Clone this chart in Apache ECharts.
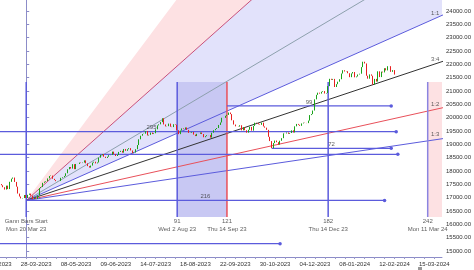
<!DOCTYPE html>
<html>
<head>
<meta charset="utf-8">
<script src="https://cdn.jsdelivr.net/npm/echarts@6/dist/echarts.min.js"></script>
<style>
html,body{margin:0;padding:0;background:#fff;}
#c{width:474px;height:270px;}
</style>
</head>
<body>
<div id="c"></div>
<script>
// ---- data (bar index 0 = Mon 20 Mar 23, Gann Bars Start) ----
const firstBar = -15;
const closes = [
17466,17392,17304,17451,17322,17594,17711,17754,17590,17413,17154,17043,16972,16985,17100,
16988,17107,17152,17077,16945,16986,16951,17081,17360,17398,17557,17599,17624,17722,17812,
17828,17707,17660,17618,17624,17624,17744,17769,17814,17915,18065,18148,18090,18256,18069,
18264,18266,18315,18297,18315,18399,18287,18182,18129,18203,18314,18348,18285,18321,18499,
18599,18634,18534,18488,18534,18594,18599,18726,18635,18563,18602,18716,18756,18688,18826,
18756,18817,18857,18771,18666,18691,18817,18972,19189,19322,19389,19399,19497,19332,19356,
19440,19385,19414,19565,19711,19750,19833,19979,19745,19672,19681,19778,19660,19646,19754,
19734,19527,19382,19517,19597,19571,19633,19543,19428,19435,19465,19365,19310,19394,19396,
19444,19386,19266,19307,19343,19347,19254,19435,19528,19575,19611,19727,19820,19996,19993,
20070,20103,20192,20133,19901,19742,19675,19675,19665,19716,19524,19638,19529,19437,19546,
19654,19513,19690,19811,19794,19751,19732,19812,19672,19625,19543,19282,19122,18857,19047,
19141,19080,18989,19134,19231,19412,19407,19444,19395,19425,19525,19444,19676,19765,19732,
19694,19784,19812,19802,19795,19890,20097,20133,20268,20687,20855,20937,20901,20970,20997,
20906,20926,21183,21457,21419,21453,21150,21255,21349,21441,21655,21779,21731,21742,21666,
21518,21659,21711,21513,21545,21619,21648,21895,22097,22032,21572,21462,21622,21572,21239,
21454,21353,21738,21522,21726,21697,21854,21772,21929,21931,21718,21783,21616
];
const firstOpen = 17510;

// x-axis tick labels
const xLabelIdx = [-18, 6, 30, 54, 78, 102, 126, 150, 174, 198, 222, 246];
const xLabelText = ['21-02-2023','28-03-2023','08-05-2023','09-06-2023','14-07-2023','18-08-2023',
  '22-09-2023','30-10-2023','04-12-2023','08-01-2024','12-02-2024','15-03-2024'];
const yTicks = [15000,15500,16000,16500,17000,17500,18000,18500,19000,19500,20000,20500,21000,21500,22000,22500,23000,23500,24000];

// Gann fan
const fanOriginIdx = 0;
const fanOriginPrice = 16895;
const fanUnit = 27.7; // points per bar for 1:1
const fanNames = ['3:1','2:1','4:3','1:1','3:4','1:2','1:3'];
const fanRatios = [3, 2, 4/3, 1, 3/4, 1/2, 1/3];
const fanShowLabel = [false, false, false, true, true, true, true];

// Gann bar verticals
const vBars = [0, 91, 121, 182, 242];
const vLine1 = ['Gann Bars Start', '91', '121', '182', '242'];
const vLine2 = ['Mon 20 Mar 23', 'Wed 2 Aug 23', 'Thu 14 Sep 23', 'Thu 14 Dec 23', 'Mon 11 Mar 24'];
const vTop = 21338, vBottom = 16275;

// horizontal bar-count lines
const hPrice = [20440, 19475, 18850, 18625, 16895, 15275];
const hStart = [121, -72, 148, -110, 0, -120];
const hEnd   = [220, 223, 220, 224, 216, 153];
const hLabel = ['99', '295', '72', '', '216', ''];

// ---- build ----
const candles = closes.map((c, i) => {
  const o = i === 0 ? firstOpen : closes[i - 1];
  return [firstBar + i, o, c, Math.min(o, c), Math.max(o, c)];
});
const fanAt = (k, x) => fanOriginPrice + fanRatios[k] * fanUnit * (x - fanOriginIdx);
const FAR = 400;

const BLUE = '#5b5bdc', RED = '#e8505a', FONT = 'Liberation Sans, Arial, sans-serif';
const fanColors = {'3:1': 'rgba(0,0,0,0)', '2:1': '#c8507a', '4:3': '#8da0ad', '1:1': BLUE, '3:4': '#333333', '1:2': RED, '1:3': BLUE};

const series = [];

// fills
const polys = [
  {pts: [[fanOriginIdx, fanOriginPrice], [FAR, fanAt(0, FAR)], [FAR, fanAt(1, FAR)]], fill: '#fde1e3'},
  {pts: [[fanOriginIdx, fanOriginPrice], [FAR, fanAt(1, FAR)], [FAR, fanAt(3, FAR)]], fill: '#e2e2fb'},
  {pts: [[91, vBottom], [91, vTop], [121, vTop], [121, vBottom]], fill: '#c8c8f3'},
  {pts: [[242, vBottom], [242, vTop], [FAR, vTop], [FAR, vBottom]], fill: '#fde1e3'}
];
series.push({
  type: 'custom', clip: true, silent: true, z: 1,
  data: polys.map((p, i) => [i]),
  renderItem: (params, api) => {
    const p = polys[params.dataIndex];
    return {type: 'polygon', shape: {points: p.pts.map(q => api.coord(q))}, style: {fill: p.fill, stroke: null}};
  }
});

// fan lines
fanNames.forEach((n, k) => {
  if (k === 0) return;
  series.push({
    type: 'line', clip: true, silent: true, z: 3, symbol: 'none',
    lineStyle: {color: fanColors[n], width: 1},
    data: [[fanOriginIdx, fanOriginPrice], [FAR, fanAt(k, FAR)]]
  });
});
// fan labels
series.push({
  type: 'scatter', z: 6, symbolSize: 0, silent: true, clip: false,
  data: fanNames.map((n, k) => fanShowLabel[k] ? {value: [246.5, fanAt(k, 246.5)], name: n} : null).filter(Boolean),
  label: {show: true, position: 'top', distance: 2, formatter: p => p.name, fontSize: 6, color: '#333', fontFamily: FONT}
});

// vertical bar lines
vBars.forEach((b, i) => {
  series.push({
    type: 'line', silent: true, z: 4, symbol: 'none', clip: true,
    lineStyle: {color: b === 121 ? RED : (b === 242 ? '#8a84e0' : BLUE), width: 1.5},
    data: [[b, vBottom], [b, vTop]]
  });
});
series.push({
  type: 'scatter', z: 6, symbolSize: 0, silent: true, clip: false,
  data: vBars.map((b, i) => ({value: [b, vBottom], name: vLine1[i] + '\n' + vLine2[i]})),
  label: {show: true, position: 'bottom', distance: 1, formatter: p => p.name, fontSize: 6, lineHeight: 7.5, color: '#333', fontFamily: FONT, align: 'center'}
});

// horizontal count lines
hPrice.forEach((p, i) => {
  series.push({
    type: 'line', silent: true, z: 4, clip: true,
    symbol: 'circle', showSymbol: true,
    lineStyle: {color: BLUE, width: 1.2},
    itemStyle: {color: BLUE},
    data: [{value: [hStart[i], p], symbolSize: 0}, {value: [hEnd[i], p], symbolSize: 3.5}]
  });
});
series.push({
  type: 'scatter', z: 6, symbolSize: 0, silent: true, clip: true,
  data: hPrice.map((p, i) => hLabel[i] ? {value: [(hStart[i] + hEnd[i]) / 2, p], name: hLabel[i]} : null).filter(Boolean),
  label: {show: true, position: 'top', distance: 1, formatter: p => p.name, fontSize: 6, color: '#333', fontFamily: FONT}
});

// candles
series.push({
  type: 'candlestick', z: 5, silent: true, clip: true,
  barWidth: 1.2,
  encode: {x: 0, y: [1, 2, 3, 4]},
  itemStyle: {color: '#1aa31a', color0: '#e82020', borderColor: '#1aa31a', borderColor0: '#e82020', borderWidth: 1},
  data: candles
});

const tickIdx = [];
for (let t = -18; t <= 250; t += 6) tickIdx.push(t);

const chart = echarts.init(document.getElementById('c'), null, {renderer: 'canvas'});
chart.setOption({
  animation: false,
  backgroundColor: '#fff',
  grid: {left: 0, right: 30, top: 0, bottom: 13, containLabel: false},
  xAxis: {
    type: 'value', min: -15.8, max: 250.6,
    axisLine: {show: true, lineStyle: {color: '#8c8cc8', width: 1}},
    axisTick: {show: true, customValues: tickIdx, length: 2, lineStyle: {color: '#9a9ac8'}},
    axisLabel: {customValues: xLabelIdx.slice(1), formatter: v => xLabelText[xLabelIdx.indexOf(Math.round(v))] || '', fontSize: 6, color: '#333', margin: 4, fontFamily: FONT, hideOverlap: false, showMinLabel: true, showMaxLabel: true},
    splitLine: {show: false}
  },
  yAxis: {
    type: 'value', position: 'right', min: 24000 - 246 * 37.5, max: 24000 + 11 * 37.5,
    axisLine: {show: true, lineStyle: {color: '#8c8cc8', width: 1}},
    axisTick: {show: true, customValues: yTicks, length: 3, lineStyle: {color: '#8c8cc8'}},
    axisLabel: {customValues: yTicks, formatter: v => v.toFixed(2), fontSize: 6, color: '#333', margin: 4, fontFamily: FONT},
    splitLine: {show: false}
  },
  series: series
});
// partially visible first date label (left of the plot)
const px = chart.convertToPixel({xAxisIndex: 0}, xLabelIdx[0]);
chart.setOption({graphic: [
  {type: 'text', x: px, y: 264, style: {text: xLabelText[0], fontSize: 6, fill: '#333', fontFamily: FONT, align: 'center', verticalAlign: 'middle'}},
  {type: 'rect', shape: {x: 418, y: 267, width: 4, height: 3}, style: {fill: '#999'}}
]});
</script>
</body>
</html>
